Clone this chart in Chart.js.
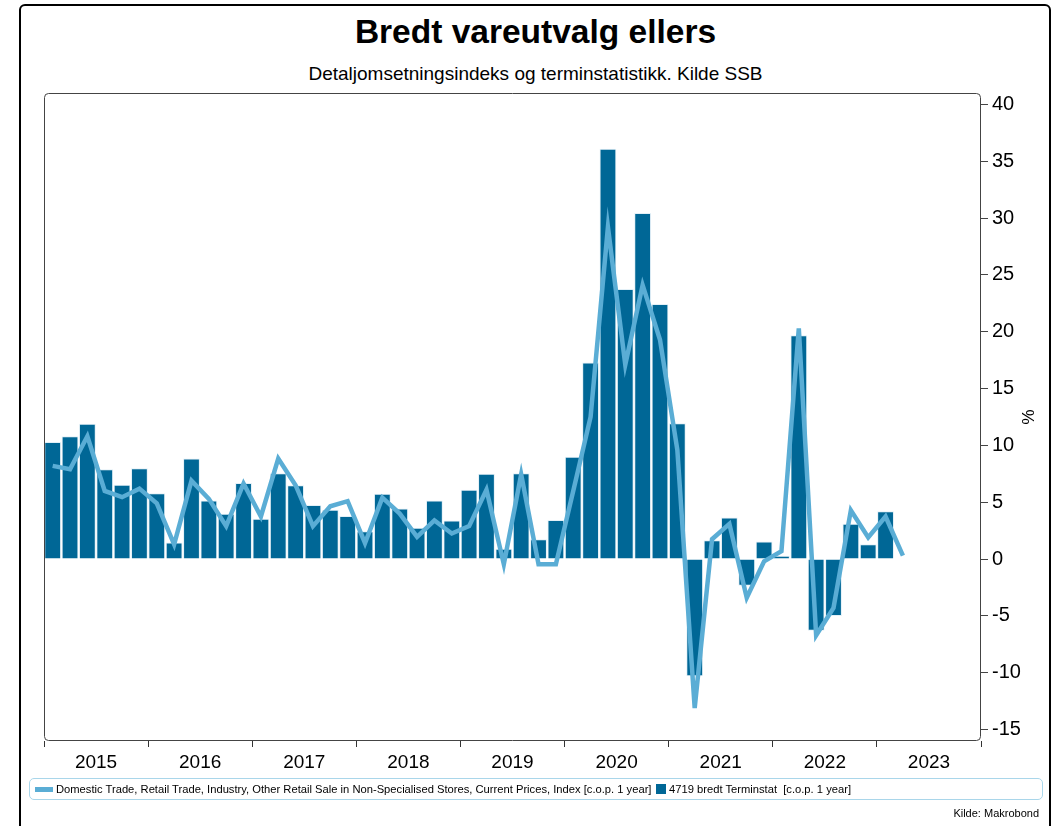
<!DOCTYPE html>
<html>
<head>
<meta charset="utf-8">
<script src="https://cdn.jsdelivr.net/npm/chart.js@4.4.0/dist/chart.umd.min.js"></script>
<style>
  body { margin: 0; background: #fff; font-family: "Liberation Sans", Arial, sans-serif; }
  #frame { position: absolute; left: 19px; top: 4px; width: 1028px; height: 840px; border: 2px solid #000; border-radius: 6px; }
  #title { position: absolute; left: 20px; width: 1031px; top: 13px; text-align: center; font-size: 33.5px; font-weight: bold; color: #000; }
  #subtitle { position: absolute; left: 20px; width: 1031px; top: 63px; text-align: center; font-size: 19px; color: #000; }
  #chart { position: absolute; left: 0; top: 0; }
  #legend { position: absolute; left: 29px; top: 778px; width: 1012px; height: 20px; border: 1px solid #a9d6ea; border-radius: 5px; font-size: 11.2px; color: #000; }
  #legend span { position: absolute; top: 4px; white-space: nowrap; }
  .swatch { position: absolute; }
  #source { position: absolute; right: 17px; top: 807px; font-size: 11px; color: #000; }
</style>
</head>
<body>
<div id="frame"></div>
<div id="title">Bredt vareutvalg ellers</div>
<div id="subtitle">Detaljomsetningsindeks og terminstatistikk. Kilde SSB</div>
<canvas id="chart" width="1056" height="826"></canvas>
<div id="legend"></div>
<div id="source">Kilde: Makrobond</div>
<script>
// bi-monthly periods (terminer), 2015 T1 .. 2023 T6
const years = ["2015", "2016", "2017", "2018", "2019", "2020", "2021", "2022", "2023"];
const termsPerYear = 6;

// Domestic trade index, y/y %
const retailIndex = [
  8.2, 7.9, 10.8, 6.0, 5.45, 6.2,
  4.9, 1.3, 6.9, 5.3, 2.9, 6.65,
  3.75, 8.85, 6.5, 2.9, 4.65, 5.1,
  1.4, 5.4, 4.0, 1.95, 3.4, 2.25,
  2.9, 6.1, -0.45, 7.45, -0.45, -0.45,
  6.0, 12.5, 29.2, 17.1, 24.1, 19.3,
  9.6, -13.1, 1.75, 3.1, -3.4, -0.2,
  0.7, 20.3, -6.7, -4.3, 4.3, 1.9,
  3.75, 0.3
];

// 4719 bredt terminstatistikk, y/y %
const termStat = [
  10.3, 10.8, 11.9, 7.9, 6.55, 8.0,
  5.8, 1.45, 8.85, 5.15, 4.0, 6.7,
  3.55, 7.55, 6.5, 4.75, 4.35, 3.8,
  2.45, 5.75, 4.45, 2.75, 5.15, 3.4,
  6.1, 7.5, 0.9, 7.55, 1.75, 3.45,
  9.0, 17.3, 36.1, 23.75, 30.45, 22.45,
  11.95, -10.3, 1.65, 3.65, -2.35, 1.55,
  0.3, 19.7, -6.3, -5.0, 3.1, 1.3,
  4.2
];

const yTicks = [-15, -10, -5, 0, 5, 10, 15, 20, 25, 30, 35, 40];

const lineColor = "#5aadd5";
const barColor = "#006796";
const lineLabel = "Domestic Trade, Retail Trade, Industry, Other Retail Sale in Non-Specialised Stores, Current Prices, Index [c.o.p. 1 year]";
const barLabel = "4719 bredt Terminstat  [c.o.p. 1 year]";

Chart.defaults.font.family = '"Liberation Sans", Arial, sans-serif';
Chart.defaults.color = "#000";

const plotBox = {
  id: "plotBox",
  afterDraw(chart) {
    const { ctx, chartArea: a } = chart;
    ctx.save();
    ctx.strokeStyle = "#444";
    ctx.lineWidth = 1;
    ctx.beginPath();
    ctx.roundRect(a.left + 0.5, a.top + 0.5, a.right - a.left - 1, a.bottom - a.top - 1, 4);
    ctx.stroke();
    ctx.restore();
  }
};

const nPeriods = years.length * termsPerYear;

new Chart(document.getElementById("chart"), {
  type: "bar",
  data: {
    datasets: [
      {
        type: "line",
        label: lineLabel,
        data: retailIndex.map((v, i) => ({ x: i + 0.5, y: v })),
        borderColor: lineColor,
        borderWidth: 4.5,
        pointRadius: 0,
        tension: 0,
        borderJoinStyle: "miter",
        order: 0
      },
      {
        label: barLabel,
        data: termStat.map((v, i) => ({ x: i + 0.5, y: v })),
        backgroundColor: barColor,
        borderColor: "#e3f0f7",
        borderWidth: 1,
        barPercentage: 1,
        categoryPercentage: 0.97,
        order: 1
      }
    ]
  },
  options: {
    responsive: false,
    animation: false,
    layout: { padding: { left: 44, top: 93, right: 15, bottom: 45 } },
    plugins: { legend: { display: false }, tooltip: { enabled: false } },
    scales: {
      x: {
        type: "linear",
        offset: false,
        min: 0,
        max: nPeriods,
        afterBuildTicks: (axis) => {
          const t = [];
          for (let v = 0; v <= nPeriods; v += termsPerYear / 2) t.push({ value: v });
          axis.ticks = t;
        },
        afterFit: (scale) => { scale.height = 40; },
        border: { display: false },
        grid: {
          offset: false,
          drawOnChartArea: false,
          tickLength: 6,
          tickColor: (c) => (c.tick && c.tick.value % termsPerYear === 0 ? "#333" : "rgba(0,0,0,0)")
        },
        ticks: {
          autoSkip: false,
          maxRotation: 0,
          padding: 4,
          font: { size: 19 },
          callback: (v) => (v % termsPerYear === termsPerYear / 2 ? years[(v - termsPerYear / 2) / termsPerYear] : "")
        }
      },
      y: {
        position: "right",
        min: -16,
        max: 41,
        afterBuildTicks: (axis) => { axis.ticks = yTicks.map((v) => ({ value: v })); },
        afterFit: (scale) => { scale.width = 60; },
        border: { display: false },
        grid: { drawOnChartArea: false, tickLength: 7, tickColor: "#444" },
        ticks: { font: { size: 20 }, padding: 4 },
        title: { display: true, text: "%", font: { size: 17 } }
      }
    }
  },
  plugins: [plotBox]
});

// legend
const legend = document.getElementById("legend");
legend.innerHTML =
  '<div class="swatch" style="left:5px;top:8px;width:18px;height:5px;background:' + lineColor + '"></div>' +
  '<span style="left:26px">' + lineLabel + '</span>' +
  '<div class="swatch" id="sq" style="top:5px;width:10px;height:10px;background:' + barColor + '"></div>' +
  '<span id="barText"></span>';
const firstSpan = legend.querySelector("span");
const x2 = 26 + firstSpan.offsetWidth + 5;
document.getElementById("sq").style.left = x2 + "px";
const bt = document.getElementById("barText");
bt.textContent = barLabel;
bt.style.left = (x2 + 13) + "px";
bt.style.whiteSpace = "pre";
</script>
</body>
</html>
